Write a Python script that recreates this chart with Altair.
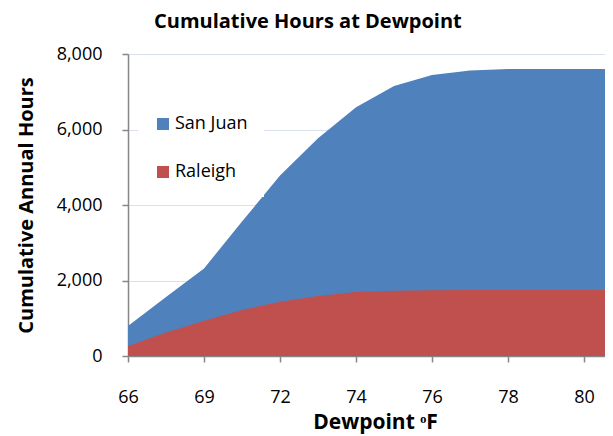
import altair as alt
import pandas as pd

# ---- data ----
dewpoint = ["66", "67.5", "69", "70.5", "72", "73", "74", "75", "76", "77", "78", "79", "80", "81"]
san_juan = [795, 1560, 2320, 3560, 4780, 5770, 6590, 7155, 7445, 7565, 7600, 7600, 7600, 7600]
raleigh = [265, 620, 935, 1220, 1440, 1590, 1695, 1730, 1745, 1750, 1750, 1750, 1750, 1750]
cities = ["San Juan", "Raleigh"]
colors = ["#4F81BD", "#C0504D"]
y_ticks = [0, 2000, 4000, 6000, 8000]
x_label_idx = [0, 2, 4, 6, 8, 10, 12]

rows = []
for city, vals in zip(cities, [san_juan, raleigh]):
    for i, (d, v) in enumerate(zip(dewpoint, vals)):
        rows.append({"idx": i, "dewpoint": d, "city": city, "hours": v})
df = pd.DataFrame(rows)

label_expr = "[" + ",".join(f"'{d}'" for d in dewpoint) + "][datum.value]"

FONT = "Open Sans"
AX = "#868686"

x = alt.X(
    "idx:Q",
    scale=alt.Scale(domain=[0, 12.55], nice=False, zero=False),
    axis=alt.Axis(
        values=x_label_idx, labelExpr=label_expr, grid=False, labelFlush=False,
        labelOverlap=False,
        title="Dewpoint ᵒF", titleX=247, titleY=72, titleBaseline="alphabetic",
        titleAlign="center", titleFontSize=21, titleFontWeight="bold",
        labelPadding=26, labelFontSize=18,
    ),
)
y = alt.Y(
    "hours:Q",
    scale=alt.Scale(domain=[0, 8000], nice=False),
    axis=alt.Axis(
        values=y_ticks, format=",.0f", grid=True, gridColor="#D9DFEC",
        title="Cumulative Annual Hours", titleX=-96, titleY=151, titleAngle=-90,
        titleBaseline="alphabetic", titleAlign="center",
        titleFontSize=20, titleFontWeight="bold",
        labelPadding=20, labelFontSize=18,
    ),
)
color = alt.Color(
    "city:N",
    scale=alt.Scale(domain=cities, range=colors),
    legend=alt.Legend(
        title=None, orient="none", legendX=10, legendY=45, padding=16,
        fillColor="white", symbolType="square", symbolSize=144,
        symbolStrokeWidth=0, symbolOpacity=1, labelFontSize=18, labelFont=FONT,
        labelOffset=3, rowPadding=30, labelColor="black",
    ),
)

base = alt.Chart(df).mark_area(opacity=1, clip=True, interpolate="linear").encode(
    x=x, y=y, color=color
)
sj = base.transform_filter(alt.datum.city == "San Juan")
ra = base.transform_filter(alt.datum.city == "Raleigh")

chart = (
    alt.layer(sj, ra)
    .properties(
        width=477, height=302,
        autosize="none",
        padding={"left": 120, "top": 46, "right": 0, "bottom": 80},
        title=alt.TitleParams(
            "Cumulative Hours at Dewpoint", anchor="start", dx=138, dy=3, offset=0,
            baseline="alphabetic", font=FONT, fontSize=20, fontWeight="bold",
            color="black",
        ),
    )
    .configure_view(stroke=None)
    .configure_axis(
        labelFont=FONT, titleFont=FONT, labelColor="black", titleColor="black",
        domainColor=AX, tickColor=AX, tickSize=6, domainWidth=1.5, tickWidth=1.5,
    )
)

chart.save("out.html", embed_options={"renderer": "svg", "actions": False})
